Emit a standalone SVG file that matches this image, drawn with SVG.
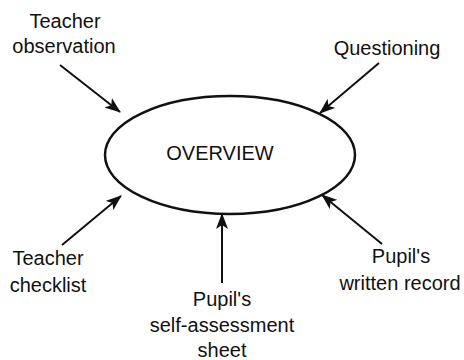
<svg xmlns="http://www.w3.org/2000/svg" width="464" height="360" viewBox="0 0 464 360">
<style>
text{font-family:"Liberation Sans",Arial,sans-serif;font-size:20px;fill:#111;text-anchor:middle}
.c{stroke:#111;stroke-width:2;fill:none}
</style>
<defs>
<marker id="ah" markerUnits="userSpaceOnUse" markerWidth="16" markerHeight="12" refX="15" refY="6" orient="auto">
<path d="M0,0 L16,6 L0,12 L4,6 z" fill="#111"/>
</marker>
</defs>
<rect width="464" height="360" fill="#fff"/>
<g id="overview">
<ellipse cx="230" cy="155" rx="125" ry="59" fill="none" stroke="#111" stroke-width="2.5"/>
<text x="220" y="160">OVERVIEW</text>
</g>
<g id="teacher-observation">
<text x="65" y="28">Teacher</text>
<text x="64" y="53">observation</text>
</g>
<g id="questioning">
<text x="387" y="55">Questioning</text>
</g>
<g id="teacher-checklist">
<text x="48" y="265">Teacher</text>
<text x="48" y="292">checklist</text>
</g>
<g id="pupils-written-record">
<text x="401" y="263">Pupil's</text>
<text x="400" y="290">written record</text>
</g>
<g id="pupils-self-assessment">
<text x="222" y="306">Pupil's</text>
<text x="222" y="332">self-assessment</text>
<text x="222" y="357">sheet</text>
</g>
<g id="connectors">
<line class="c" x1="60" y1="65" x2="120" y2="112" marker-end="url(#ah)"/>
<line class="c" x1="379" y1="63" x2="320" y2="113" marker-end="url(#ah)"/>
<line class="c" x1="62" y1="245" x2="121" y2="196" marker-end="url(#ah)"/>
<line class="c" x1="382" y1="244" x2="322" y2="195" marker-end="url(#ah)"/>
<line class="c" x1="222" y1="283" x2="222" y2="214" marker-end="url(#ah)"/>
</g>
</svg>
